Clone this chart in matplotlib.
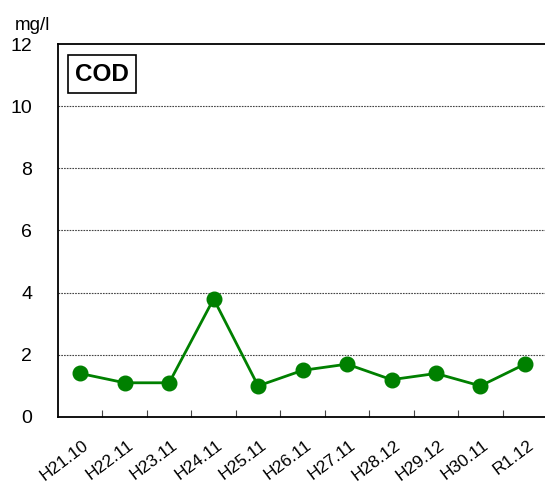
import matplotlib.pyplot as plt

labels = ['H21.10', 'H22.11', 'H23.11', 'H24.11', 'H25.11', 'H26.11',
          'H27.11', 'H28.12', 'H29.12', 'H30.11', 'R1.12']
cod = [1.4, 1.1, 1.1, 3.8, 1.0, 1.5, 1.7, 1.2, 1.4, 1.0, 1.7]
yticks = [0, 2, 4, 6, 8, 10, 12]

plt.rcParams['font.family'] = ['Liberation Sans', 'DejaVu Sans']

fig = plt.figure(figsize=(5.45, 4.82), dpi=100)
ax = fig.add_axes([0.1064, 0.1349, 0.8936 + 0.004, 0.7738])

x = list(range(len(labels)))
ax.plot(x, cod, color='#008000', lw=2.0, marker='o', markersize=10.5, zorder=3)

ax.set_xlim(-0.5, len(labels) - 0.5)
ax.set_ylim(0, 12)
ax.set_yticks(yticks)
ax.set_yticklabels([str(v) for v in yticks], fontsize=14)
ax.tick_params(axis='y', length=0, pad=18.5)
for yy in yticks[1:-1]:
    ax.axhline(yy, color='#444444', lw=0.8, ls=(0, (1.5, 1)), zorder=1)

ax.set_xticks([i + 0.5 for i in x[:-1]])
ax.set_xticklabels([])
ax.set_xticks([i + 0.05 for i in x], minor=True)
ax.set_xticklabels(labels, minor=True, rotation=37, ha='right',
                   rotation_mode='anchor', fontsize=12.5)
ax.tick_params(axis='x', which='major', direction='in', length=5, width=0.8, color='#444444')
ax.tick_params(axis='x', which='minor', length=0, pad=15)

for s in ['left', 'top', 'bottom']:
    ax.spines[s].set_linewidth(1.3)
ax.spines['right'].set_visible(False)

ax.text(0.035, 0.95, 'COD', transform=ax.transAxes, fontsize=17.5, fontweight='bold',
        va='top', ha='left',
        bbox=dict(boxstyle='square,pad=0.3', fc='white', ec='black', lw=1.2))
fig.text(15 / 545, 1 - 26 / 482, 'mg/l', fontsize=13.5, va='center', ha='left')

fig.savefig('out.png', dpi=100)
